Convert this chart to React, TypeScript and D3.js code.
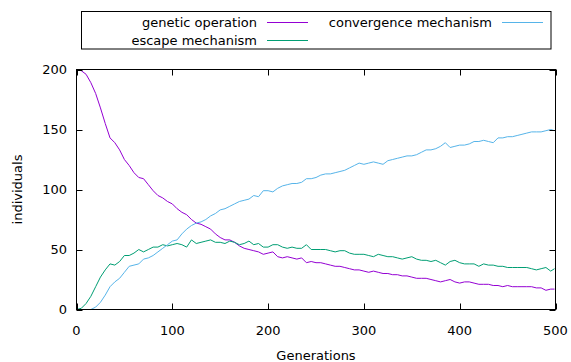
import React, { useRef, useEffect } from 'react'
import * as d3 from 'd3'

// generations sampled every 5 (last sample at 499)
const generations = [
  0, 5, 10, 15, 20, 25, 30, 35, 40, 45, 50, 55, 60, 65, 70, 75, 80, 85, 90, 95,
  100, 105, 110, 115, 120, 125, 130, 135, 140, 145, 150, 155, 160, 165, 170, 175, 180, 185, 190, 195,
  200, 205, 210, 215, 220, 225, 230, 235, 240, 245, 250, 255, 260, 265, 270, 275, 280, 285, 290, 295,
  300, 305, 310, 315, 320, 325, 330, 335, 340, 345, 350, 355, 360, 365, 370, 375, 380, 385, 390, 395,
  400, 405, 410, 415, 420, 425, 430, 435, 440, 445, 450, 455, 460, 465, 470, 475, 480, 485, 490, 495,
  499
]

const geneticOperation = [
  200, 199, 196, 189, 180, 168, 155, 143, 139, 133, 125, 120, 114, 110, 109, 104, 99, 95, 93, 90,
  88, 84, 81, 79, 75, 72, 71, 69, 67, 63, 60, 58, 58, 56, 53, 51, 50, 49, 48, 46,
  47, 48, 44, 43, 44, 43, 42, 43, 39, 40, 39, 39, 38, 37, 36, 36, 35, 34, 33, 33,
  32, 31, 32, 31, 30, 30, 29, 29, 28, 28, 27, 26, 26, 26, 25, 24, 23, 24, 25, 23,
  22, 23, 23, 22, 21, 21, 21, 20, 20, 19, 20, 19, 19, 19, 19, 19, 18, 18, 16, 17,
  17
]

const escapeMechanism = [
  0, 1, 5, 11, 19, 27, 33, 38, 37, 40, 45, 45, 47, 50, 48, 50, 52, 52, 54, 53,
  54, 55, 54, 52, 58, 55, 56, 57, 58, 56, 56, 55, 57, 56, 54, 55, 57, 54, 55, 52,
  52, 54, 54, 52, 51, 52, 51, 51, 54, 50, 50, 50, 50, 49, 48, 49, 49, 47, 46, 46,
  46, 45, 44, 46, 45, 44, 44, 43, 42, 43, 44, 42, 41, 41, 40, 41, 39, 37, 40, 41,
  39, 38, 38, 38, 36, 38, 37, 37, 36, 36, 35, 35, 35, 35, 35, 34, 33, 34, 35, 32,
  34
]

const convergenceMechanism = [
  0, 0, 0, 0, 2, 6, 12, 19, 23, 26, 31, 36, 37, 38, 42, 43, 45, 48, 51, 54,
  57, 58, 63, 67, 70, 72, 73, 75, 78, 80, 83, 84, 86, 88, 90, 91, 92, 95, 94, 99,
  99, 98, 101, 103, 104, 105, 105, 106, 109, 109, 110, 112, 113, 113, 114, 115, 116, 118, 120, 122,
  121, 122, 123, 122, 121, 124, 125, 126, 127, 128, 128, 129, 131, 133, 133, 134, 136, 139, 135, 136,
  137, 137, 138, 140, 140, 141, 140, 139, 143, 143, 144, 144, 145, 146, 147, 148, 148, 148, 149, 150,
  149
]

const xTicks = [0, 100, 200, 300, 400, 500]
const yTicks = [0, 50, 100, 150, 200]

const SERIES = [
  { name: 'genetic operation', values: geneticOperation, color: '#9400D3' },
  { name: 'escape mechanism', values: escapeMechanism, color: '#009E73' },
  { name: 'convergence mechanism', values: convergenceMechanism, color: '#56B4E9' }
]

const FONT = '"DejaVu Sans", Verdana, sans-serif'

export default function App() {
  const svgRef = useRef<SVGSVGElement>(null)
  const width = 571
  const height = 362

  useEffect(() => {
    if (!svgRef.current) return
    const svg = d3.select(svgRef.current)
    svg.selectAll('*').remove()

    const left = 76.5
    const right = 555.5
    const top = 69.5
    const bottom = 309.5

    const x = d3.scaleLinear().domain([0, 500]).range([left, right])
    const y = d3.scaleLinear().domain([0, 200]).range([bottom, top])

    // series
    SERIES.forEach(s => {
      const line = d3.line<number>()
        .x((_, i) => x(generations[i]))
        .y(d => y(d))
      svg.append('path')
        .datum(s.values)
        .attr('d', line)
        .attr('fill', 'none')
        .attr('stroke', s.color)
        .attr('stroke-width', 1)
    })

    // border
    svg.append('rect')
      .attr('x', left)
      .attr('y', top)
      .attr('width', right - left)
      .attr('height', bottom - top)
      .attr('fill', 'none')
      .attr('stroke', '#000')
      .attr('stroke-width', 1)

    const tickLen = 6

    // x ticks, mirrored
    xTicks.forEach(t => {
      const xp = Math.round(x(t)) + 0.5
      svg.append('line')
        .attr('x1', xp).attr('x2', xp)
        .attr('y1', bottom).attr('y2', bottom - tickLen)
        .attr('stroke', '#000')
      svg.append('line')
        .attr('x1', xp).attr('x2', xp)
        .attr('y1', top).attr('y2', top + tickLen)
        .attr('stroke', '#000')
      svg.append('text')
        .attr('x', x(t))
        .attr('y', 335)
        .attr('text-anchor', 'middle')
        .style('font-family', FONT)
        .style('font-size', '13px')
        .text(t)
    })

    // y ticks, mirrored
    yTicks.forEach(t => {
      const yp = Math.round(y(t)) + 0.5
      svg.append('line')
        .attr('x1', left).attr('x2', left + tickLen)
        .attr('y1', yp).attr('y2', yp)
        .attr('stroke', '#000')
      svg.append('line')
        .attr('x1', right).attr('x2', right - tickLen)
        .attr('y1', yp).attr('y2', yp)
        .attr('stroke', '#000')
      svg.append('text')
        .attr('x', 67)
        .attr('y', y(t) + 4.5)
        .attr('text-anchor', 'end')
        .style('font-family', FONT)
        .style('font-size', '13px')
        .text(t)
    })

    // axis titles
    svg.append('text')
      .attr('x', (left + right) / 2)
      .attr('y', 360)
      .attr('text-anchor', 'middle')
      .style('font-family', FONT)
      .style('font-size', '13px')
      .text('Generations')

    svg.append('text')
      .attr('transform', `translate(21.5,${(top + bottom) / 2}) rotate(-90)`)
      .attr('text-anchor', 'middle')
      .style('font-family', FONT)
      .style('font-size', '13px')
      .text('individuals')

    // legend
    svg.append('rect')
      .attr('x', 81.5)
      .attr('y', 11.5)
      .attr('width', 469.5)
      .attr('height', 37.5)
      .attr('fill', 'none')
      .attr('stroke', '#000')
      .attr('stroke-width', 1)

    const legendPos = [
      { tx: 257, lx1: 267, lx2: 308, cy: 22 },
      { tx: 257, lx1: 267, lx2: 308, cy: 40 },
      { tx: 492, lx1: 502, lx2: 543, cy: 22 }
    ]
    SERIES.forEach((s, i) => {
      const p = legendPos[i]
      svg.append('text')
        .attr('x', p.tx)
        .attr('y', p.cy + 4.5)
        .attr('text-anchor', 'end')
        .style('font-family', FONT)
        .style('font-size', '13px')
        .text(s.name)
      svg.append('line')
        .attr('x1', p.lx1).attr('x2', p.lx2)
        .attr('y1', p.cy + 0.5).attr('y2', p.cy + 0.5)
        .attr('stroke', s.color)
        .attr('stroke-width', 1)
    })
  }, [])

  return (
    <svg
      ref={svgRef}
      width={width}
      height={height}
      style={{ position: 'absolute', left: 0, top: 0, backgroundColor: 'white' }}
    />
  )
}
